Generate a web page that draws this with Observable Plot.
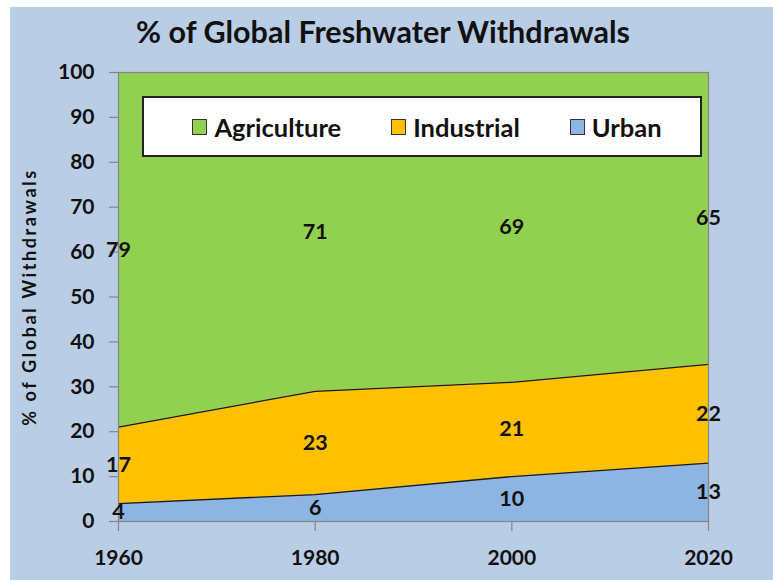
<!DOCTYPE html>
<html>
<head>
<meta charset="utf-8">
<script src="https://cdn.jsdelivr.net/npm/d3@7"></script>
<script src="https://cdn.jsdelivr.net/npm/@observablehq/plot@0.6"></script>
<style>
  html, body { margin: 0; padding: 0; background: #ffffff; }
  #chart { position: relative; width: 773px; height: 580px; overflow: hidden; font-family: Lato, "Open Sans", sans-serif; }
  #panel { position: absolute; left: 10px; top: 7px; right: 0; bottom: 0; background: #b9cde5; }
  #chart svg { position: absolute; left: 0; top: 0; }
  #title { position: absolute; left: 0; width: 766px; top: 13px; text-align: center; font-weight: 700; font-size: 30.5px; color: #111; }
  #legend { position: absolute; left: 142px; top: 96px; width: 556px; height: 57px; background: #fff; border: 2px solid #222; box-sizing: content-box;
            display: flex; align-items: center; justify-content: center; font-weight: 700; font-size: 25.5px; color: #111; }
  #legend .inner { display: flex; align-items: center; gap: 50px; margin-left: 10px; }
  #legend .item { display: flex; align-items: center; gap: 7px; }
  #legend .sw { width: 13px; height: 14px; border: 1.5px solid #333; }
</style>
</head>
<body>
<div id="chart">
  <div id="panel"></div>
  <div id="title"></div>
</div>
<script>
// Share of global freshwater withdrawals by sector (%)
const years = [1960, 1980, 2000, 2020];
const sectors = ["Urban", "Industrial", "Agriculture"];   // stacking order, bottom to top
const urban = [4, 6, 10, 13];
const industrial = [17, 23, 21, 22];
const agriculture = [79, 71, 69, 65];
const colors = ["#8db4e2", "#ffc000", "#92d050"];
const legendOrder = ["Agriculture", "Industrial", "Urban"];
const yTicks = [0, 10, 20, 30, 40, 50, 60, 70, 80, 90, 100];
const titleText = "% of Global Freshwater Withdrawals";
const yLabel = "% of Global Withdrawals";

const series = {Urban: urban, Industrial: industrial, Agriculture: agriculture};
const rows = sectors.flatMap(s => years.map((year, i) => ({year, sector: s, value: series[s][i]})));

const stackOpts = {x: "year", y: "value", z: "sector", order: sectors};

const plot = Plot.plot({
  width: 773,
  height: 580,
  marginLeft: 118,
  marginRight: 65,
  marginTop: 72,
  marginBottom: 59,
  style: {background: "transparent", fontFamily: "Lato, 'Open Sans', sans-serif"},
  x: {domain: [1960, 2020]},
  y: {domain: [0, 100]},
  color: {domain: sectors, range: colors},
  marks: [
    Plot.areaY(rows, {...stackOpts, fill: "sector"}),
    Plot.lineY(rows, Plot.filter(d => d.sector !== "Agriculture",
      Plot.stackY2({...stackOpts, stroke: "#1a1a1a", strokeWidth: 1.3}))),
    Plot.frame({stroke: "#868686", strokeWidth: 1.2}),
    Plot.axisY({ticks: yTicks, tickSize: 9, tickPadding: 15, stroke: "#868686", strokeWidth: 1.2,
      fontSize: 21, fontWeight: "bold", fill: "#111", label: null, tickFormat: d => String(d)}),
    Plot.axisX({ticks: years, tickSize: 10, tickPadding: 19, stroke: "#868686", strokeWidth: 1.2,
      fontSize: 21, fontWeight: "bold", fill: "#111", label: null, tickFormat: d => String(d)}),
    Plot.text([yLabel], {frameAnchor: "left", textAnchor: "middle", rotate: -90, dx: -88, fontSize: 18,
      fontWeight: "bold", fill: "#111"}),
    Plot.text(rows, Plot.stackY({...stackOpts, text: d => String(d.value), fontSize: 21.5, fontWeight: "bold", fill: "#111"}))
  ]
});

// widen the tracking of the rotated axis title
d3.select(plot).selectAll("text")
  .filter(function () { return this.textContent === yLabel; })
  .attr("letter-spacing", 2.6);

const chart = document.getElementById("chart");
chart.appendChild(plot);
document.getElementById("title").textContent = titleText;

const legend = document.createElement("div");
legend.id = "legend";
const inner = document.createElement("div");
inner.className = "inner";
for (const s of legendOrder) {
  const item = document.createElement("div");
  item.className = "item";
  const sw = document.createElement("span");
  sw.className = "sw";
  sw.style.background = colors[sectors.indexOf(s)];
  const label = document.createElement("span");
  label.textContent = s;
  item.append(sw, label);
  inner.appendChild(item);
}
legend.appendChild(inner);
chart.appendChild(legend);
</script>
</body>
</html>
